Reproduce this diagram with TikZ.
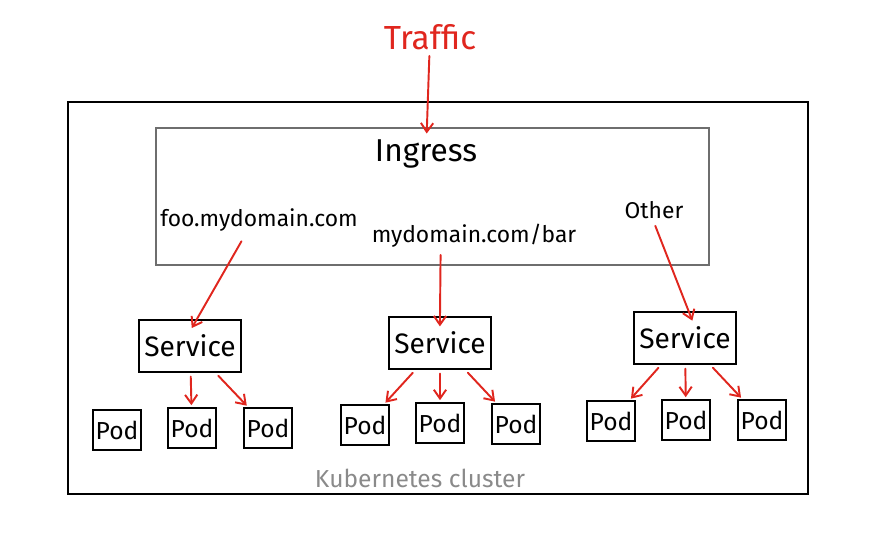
\documentclass[tikz,border=0pt]{standalone}
\usepackage{fontspec}
\setmainfont{Fira Sans}
\usetikzlibrary{positioning,arrows.meta,calc}
\definecolor{flowc}{HTML}{E0261E}
\definecolor{ingc}{HTML}{6E6E6E}
\definecolor{clusterc}{HTML}{8A8A8A}
\tikzset{
  svcbox/.style={draw=black,line width=1.3pt,minimum width=2.04cm,minimum height=1.04cm,inner sep=1pt,font=\fontsize{16}{19}\selectfont},
  podbox/.style={draw=black,line width=1.2pt,minimum width=0.96cm,minimum height=0.8cm,inner sep=1pt,font=\fontsize{14}{16}\selectfont},
  hostlbl/.style={font=\fontsize{13}{15}\selectfont,inner sep=2pt},
  flow/.style={draw=flowc,line width=1.1pt,-{Straight Barb[length=5pt,width=7pt]},line cap=round},
}
\begin{document}
\begin{tikzpicture}[x=0.02cm,y=-0.02cm]
  \useasboundingbox (0,0) rectangle (883,537);
  % cluster and ingress frames
  \draw[black,line width=1.4pt] (68,102) rectangle (808,494);
  \draw[ingc,line width=0.7pt] (156,128) rectangle (709,265);
  \node[text=clusterc,font=\fontsize{14}{16}\selectfont] (cluster) at (420,478) {Kubernetes cluster};

  % traffic into the ingress
  \node[text=flowc,font=\fontsize{19}{22}\selectfont] (traffic) at (430,37) {Traffic};
  \node[font=\fontsize{18}{21}\selectfont] (ingtitle) at (426,154) {Ingress};
  \draw[flow] (traffic) -- (ingtitle);

  % routing rules
  \node[hostlbl] (foo) at (259,220) {foo.mydomain.com};
  \node[hostlbl] (bar) at (474,236) {mydomain.com/bar};
  \node[hostlbl] (other) at (654,210) {Other};

  % services
  \node[svcbox] (svcA) at (190,346) {Service};
  \node[svcbox] (svcB) at (440,343) {Service};
  \node[svcbox] (svcC) at (685,338) {Service};

  % pods
  \foreach \n/\x/\y in {A1/117/430,A2/192/428,A3/268/428,
                        B1/365/425,B2/440/423,B3/516/424,
                        C1/611/421,C2/686/420,C3/762/420}
    \node[podbox] (pod\n) at (\x,\y) {Pod};

  % rules to services
  \draw[flow,shorten <=4pt,shorten >=-6pt] ([xshift=-8pt]foo.south) -- ([xshift=4pt]svcA.north);
  \draw[flow,shorten <=2pt,shorten >=-6pt] ([xshift=-19pt]bar.south) -- (svcB.north);
  \draw[flow,shorten <=2pt,shorten >=-6pt] (other.south) -- ([xshift=2pt]svcC.north);

  % services to pods
  \foreach \s/\p in {svcA/podA2,svcA/podA3,
                     svcB/podB1,svcB/podB2,svcB/podB3,
                     svcC/podC1,svcC/podC2,svcC/podC3}
    \draw[flow,shorten <=2pt,shorten >=1pt] (\s) -- (\p);
\end{tikzpicture}
\end{document}
